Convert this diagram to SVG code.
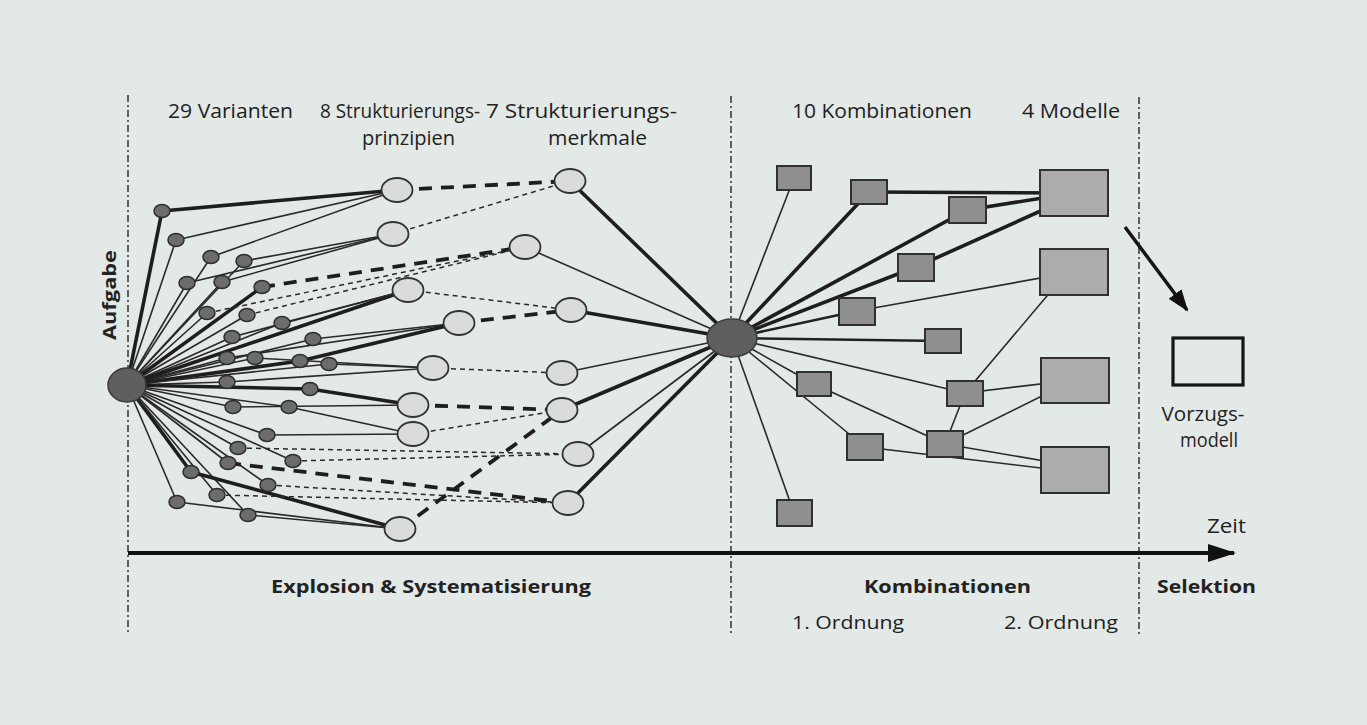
<svg xmlns="http://www.w3.org/2000/svg" width="1367" height="725" viewBox="0 0 1367 725">
<style>
.bg{fill:#e3e9e6}
.lbl{font-family:"Open Sans","DejaVu Sans",sans-serif;font-size:20px;fill:#222}
.blbl{font-family:"Open Sans","DejaVu Sans",sans-serif;font-size:18px;font-weight:bold;fill:#222}
.slbl{font-family:"Open Sans","DejaVu Sans",sans-serif;font-size:18px;fill:#222}
.sep{stroke:#333;stroke-width:1.5;stroke-dasharray:7 3 2 3;fill:none}
.l{stroke:#2a2a2a;stroke-width:1.6;fill:none}
.t{stroke:#1e1e1e;stroke-width:3.6;fill:none}
.m{stroke:#222;stroke-width:2.6;fill:none}
.d{stroke:#2a2a2a;stroke-width:1.5;stroke-dasharray:5 4;fill:none}
.D{stroke:#1e1e1e;stroke-width:3.8;stroke-dasharray:13 9;fill:none}
.dot{fill:#6c6c6c;stroke:#2e2e2e;stroke-width:1.5}
.c{fill:#d9dcda;stroke:#333;stroke-width:1.8}
.hub{fill:#5f5f5f;stroke:#3a3a3a;stroke-width:1.5}
.sq{fill:#8f8f8f;stroke:#303030;stroke-width:2}
.mod{fill:#acacac;stroke:#303030;stroke-width:2}
</style>
<defs>
<marker id="axisHead" markerUnits="userSpaceOnUse" markerWidth="30" markerHeight="20" refX="26" refY="9" orient="auto"><path d="M0,0 L28,9 L0,18 Z" fill="#111"/></marker>
<marker id="selHead" markerUnits="userSpaceOnUse" markerWidth="24" markerHeight="16" refX="20" refY="8" orient="auto"><path d="M0,0 L22,8 L0,16 Z" fill="#111"/></marker>
</defs>
<rect class="bg" x="0" y="0" width="1367" height="725"/>

<g id="separators">
<line class="sep" x1="128" y1="95" x2="128" y2="634"/>
<line class="sep" x1="731" y1="96" x2="731" y2="634"/>
<line class="sep" x1="1139" y1="97" x2="1139" y2="634"/>
</g>

<g id="connectors">
<line class="t" x1="127" y1="385" x2="162" y2="211"/>
<line class="l" x1="127" y1="385" x2="176" y2="240"/>
<line class="l" x1="127" y1="385" x2="211" y2="257"/>
<line class="l" x1="127" y1="385" x2="244" y2="261"/>
<line class="l" x1="127" y1="385" x2="187" y2="283"/>
<line class="l" x1="127" y1="385" x2="222" y2="282"/>
<line class="t" x1="127" y1="385" x2="262" y2="287"/>
<line class="l" x1="127" y1="385" x2="207" y2="313"/>
<line class="l" x1="127" y1="385" x2="247" y2="315"/>
<line class="l" x1="127" y1="385" x2="282" y2="323"/>
<line class="l" x1="127" y1="385" x2="232" y2="337"/>
<line class="l" x1="127" y1="385" x2="313" y2="339"/>
<line class="l" x1="127" y1="385" x2="227" y2="358"/>
<line class="l" x1="127" y1="385" x2="255" y2="358"/>
<line class="t" x1="127" y1="385" x2="300" y2="361"/>
<line class="l" x1="127" y1="385" x2="329" y2="364"/>
<line class="l" x1="127" y1="385" x2="227" y2="382"/>
<line class="t" x1="127" y1="385" x2="310" y2="389"/>
<line class="l" x1="127" y1="385" x2="233" y2="407"/>
<line class="l" x1="127" y1="385" x2="289" y2="407"/>
<line class="l" x1="127" y1="385" x2="267" y2="435"/>
<line class="l" x1="127" y1="385" x2="238" y2="448"/>
<line class="l" x1="127" y1="385" x2="293" y2="461"/>
<line class="l" x1="127" y1="385" x2="228" y2="463"/>
<line class="t" x1="127" y1="385" x2="191" y2="472"/>
<line class="l" x1="127" y1="385" x2="268" y2="485"/>
<line class="l" x1="127" y1="385" x2="217" y2="495"/>
<line class="l" x1="127" y1="385" x2="177" y2="502"/>
<line class="l" x1="127" y1="385" x2="248" y2="515"/>
<line class="t" x1="127" y1="385" x2="408" y2="290"/>

<line class="t" x1="162" y1="211" x2="397" y2="190"/>
<line class="l" x1="176" y1="240" x2="397" y2="190"/>
<line class="l" x1="211" y1="257" x2="397" y2="190"/>
<line class="l" x1="244" y1="261" x2="393" y2="234"/>
<line class="l" x1="187" y1="283" x2="393" y2="234"/>
<line class="l" x1="222" y1="282" x2="393" y2="234"/>
<line class="l" x1="282" y1="323" x2="408" y2="290"/>
<line class="l" x1="232" y1="337" x2="408" y2="290"/>
<line class="l" x1="313" y1="339" x2="459" y2="323"/>
<line class="l" x1="227" y1="358" x2="459" y2="323"/>
<line class="t" x1="300" y1="361" x2="459" y2="323"/>
<line class="l" x1="255" y1="358" x2="433" y2="368"/>
<line class="l" x1="329" y1="364" x2="433" y2="368"/>
<line class="l" x1="227" y1="382" x2="433" y2="368"/>
<line class="t" x1="310" y1="389" x2="413" y2="405"/>
<line class="l" x1="233" y1="407" x2="413" y2="405"/>
<line class="l" x1="289" y1="407" x2="413" y2="434"/>
<line class="l" x1="267" y1="435" x2="413" y2="434"/>
<line class="t" x1="191" y1="472" x2="400" y2="529"/>
<line class="l" x1="177" y1="502" x2="400" y2="529"/>
<line class="l" x1="248" y1="515" x2="400" y2="529"/>

<line class="D" x1="262" y1="287" x2="525" y2="247"/>
<line class="d" x1="207" y1="313" x2="525" y2="247"/>
<line class="d" x1="247" y1="315" x2="525" y2="247"/>
<line class="d" x1="238" y1="448" x2="578" y2="454"/>
<line class="d" x1="293" y1="461" x2="578" y2="454"/>
<line class="D" x1="228" y1="463" x2="568" y2="503"/>
<line class="d" x1="268" y1="485" x2="568" y2="503"/>
<line class="d" x1="217" y1="495" x2="568" y2="503"/>
<line class="D" x1="397" y1="190" x2="570" y2="181"/>
<line class="d" x1="393" y1="234" x2="570" y2="181"/>
<line class="d" x1="408" y1="290" x2="571" y2="310"/>
<line class="D" x1="459" y1="323" x2="571" y2="310"/>
<line class="d" x1="433" y1="368" x2="562" y2="373"/>
<line class="D" x1="413" y1="405" x2="562" y2="410"/>
<line class="d" x1="413" y1="434" x2="562" y2="410"/>
<line class="D" x1="400" y1="529" x2="562" y2="410"/>

<line class="t" x1="570" y1="181" x2="732" y2="338"/>
<line class="l" x1="525" y1="247" x2="732" y2="338"/>
<line class="t" x1="571" y1="310" x2="732" y2="338"/>
<line class="l" x1="562" y1="373" x2="732" y2="338"/>
<line class="t" x1="562" y1="410" x2="732" y2="338"/>
<line class="l" x1="578" y1="454" x2="732" y2="338"/>
<line class="t" x1="568" y1="503" x2="732" y2="338"/>

<line class="l" x1="732" y1="338" x2="794" y2="178"/>
<line class="t" x1="732" y1="338" x2="869" y2="192"/>
<line class="t" x1="732" y1="338" x2="967" y2="210"/>
<line class="t" x1="732" y1="338" x2="916" y2="267"/>
<line class="m" x1="732" y1="338" x2="857" y2="311"/>
<line class="m" x1="732" y1="338" x2="943" y2="341"/>
<line class="l" x1="732" y1="338" x2="965" y2="393"/>
<line class="l" x1="732" y1="338" x2="814" y2="384"/>
<line class="l" x1="732" y1="338" x2="865" y2="447"/>
<line class="l" x1="732" y1="338" x2="794" y2="513"/>

<line class="t" x1="869" y1="192" x2="1074" y2="193"/>
<line class="t" x1="967" y1="210" x2="1074" y2="193"/>
<line class="t" x1="916" y1="267" x2="1074" y2="196"/>
<line class="l" x1="857" y1="311" x2="1074" y2="272"/>
<line class="l" x1="1052" y1="290" x2="965" y2="393"/>
<line class="l" x1="965" y1="393" x2="1074" y2="380"/>
<line class="l" x1="814" y1="384" x2="945" y2="444"/>
<line class="l" x1="945" y1="444" x2="965" y2="393"/>
<line class="l" x1="945" y1="444" x2="1074" y2="380"/>
<line class="l" x1="945" y1="444" x2="1074" y2="466"/>
<line class="l" x1="865" y1="447" x2="1074" y2="472"/>

<line x1="1125" y1="227" x2="1187" y2="310" stroke="#151515" stroke-width="3.5" marker-end="url(#selHead)"/>
<line x1="128" y1="553" x2="1234" y2="553" stroke="#111" stroke-width="4" marker-end="url(#axisHead)"/>
</g>

<g id="aufgabe"><ellipse class="hub" cx="127" cy="385" rx="19" ry="17"/></g>

<g id="varianten">
<ellipse class="dot" cx="162" cy="211" rx="8" ry="6.5"/>
<ellipse class="dot" cx="176" cy="240" rx="8" ry="6.5"/>
<ellipse class="dot" cx="211" cy="257" rx="8" ry="6.5"/>
<ellipse class="dot" cx="244" cy="261" rx="8" ry="6.5"/>
<ellipse class="dot" cx="187" cy="283" rx="8" ry="6.5"/>
<ellipse class="dot" cx="222" cy="282" rx="8" ry="6.5"/>
<ellipse class="dot" cx="262" cy="287" rx="8" ry="6.5"/>
<ellipse class="dot" cx="207" cy="313" rx="8" ry="6.5"/>
<ellipse class="dot" cx="247" cy="315" rx="8" ry="6.5"/>
<ellipse class="dot" cx="282" cy="323" rx="8" ry="6.5"/>
<ellipse class="dot" cx="232" cy="337" rx="8" ry="6.5"/>
<ellipse class="dot" cx="313" cy="339" rx="8" ry="6.5"/>
<ellipse class="dot" cx="227" cy="358" rx="8" ry="6.5"/>
<ellipse class="dot" cx="255" cy="358" rx="8" ry="6.5"/>
<ellipse class="dot" cx="300" cy="361" rx="8" ry="6.5"/>
<ellipse class="dot" cx="329" cy="364" rx="8" ry="6.5"/>
<ellipse class="dot" cx="227" cy="382" rx="8" ry="6.5"/>
<ellipse class="dot" cx="310" cy="389" rx="8" ry="6.5"/>
<ellipse class="dot" cx="233" cy="407" rx="8" ry="6.5"/>
<ellipse class="dot" cx="289" cy="407" rx="8" ry="6.5"/>
<ellipse class="dot" cx="267" cy="435" rx="8" ry="6.5"/>
<ellipse class="dot" cx="238" cy="448" rx="8" ry="6.5"/>
<ellipse class="dot" cx="293" cy="461" rx="8" ry="6.5"/>
<ellipse class="dot" cx="228" cy="463" rx="8" ry="6.5"/>
<ellipse class="dot" cx="191" cy="472" rx="8" ry="6.5"/>
<ellipse class="dot" cx="268" cy="485" rx="8" ry="6.5"/>
<ellipse class="dot" cx="217" cy="495" rx="8" ry="6.5"/>
<ellipse class="dot" cx="177" cy="502" rx="8" ry="6.5"/>
<ellipse class="dot" cx="248" cy="515" rx="8" ry="6.5"/>
</g>

<g id="prinzipien">
<ellipse class="c" cx="397" cy="190" rx="15.5" ry="12"/>
<ellipse class="c" cx="393" cy="234" rx="15.5" ry="12"/>
<ellipse class="c" cx="408" cy="290" rx="15.5" ry="12"/>
<ellipse class="c" cx="459" cy="323" rx="15.5" ry="12"/>
<ellipse class="c" cx="433" cy="368" rx="15.5" ry="12"/>
<ellipse class="c" cx="413" cy="405" rx="15.5" ry="12"/>
<ellipse class="c" cx="413" cy="434" rx="15.5" ry="12"/>
<ellipse class="c" cx="400" cy="529" rx="15.5" ry="12"/>
</g>

<g id="merkmale">
<ellipse class="c" cx="570" cy="181" rx="15.5" ry="12"/>
<ellipse class="c" cx="525" cy="247" rx="15.5" ry="12"/>
<ellipse class="c" cx="571" cy="310" rx="15.5" ry="12"/>
<ellipse class="c" cx="562" cy="373" rx="15.5" ry="12"/>
<ellipse class="c" cx="562" cy="410" rx="15.5" ry="12"/>
<ellipse class="c" cx="578" cy="454" rx="15.5" ry="12"/>
<ellipse class="c" cx="568" cy="503" rx="15.5" ry="12"/>
</g>

<g id="hub"><ellipse class="hub" cx="732" cy="338" rx="25" ry="19"/></g>

<g id="kombinationen">
<rect class="sq" x="777" y="166" width="34" height="24"/>
<rect class="sq" x="851" y="180" width="36" height="24"/>
<rect class="sq" x="949" y="197" width="37" height="26"/>
<rect class="sq" x="898" y="254" width="36" height="27"/>
<rect class="sq" x="839" y="298" width="36" height="27"/>
<rect class="sq" x="925" y="329" width="36" height="24"/>
<rect class="sq" x="797" y="372" width="34" height="24"/>
<rect class="sq" x="947" y="381" width="36" height="25"/>
<rect class="sq" x="847" y="434" width="36" height="26"/>
<rect class="sq" x="927" y="431" width="36" height="26"/>
<rect class="sq" x="777" y="500" width="35" height="26"/>
</g>

<g id="modelle">
<rect class="mod" x="1040" y="170" width="68" height="46"/>
<rect class="mod" x="1040" y="249" width="68" height="46"/>
<rect class="mod" x="1041" y="358" width="68" height="45"/>
<rect class="mod" x="1041" y="447" width="68" height="46"/>
</g>

<g id="vorzugsmodell">
<rect x="1173" y="338" width="70" height="47" fill="none" stroke="#151515" stroke-width="3.2"/>
<text class="lbl" x="1203" y="421" text-anchor="middle" font-size="19" textLength="83" lengthAdjust="spacingAndGlyphs">Vorzugs-</text>
<text class="lbl" x="1209" y="447" text-anchor="middle" font-size="19" textLength="58" lengthAdjust="spacingAndGlyphs">modell</text>
</g>

<g id="labels">
<text class="lbl" x="168" y="118" textLength="125" lengthAdjust="spacingAndGlyphs">29 Varianten</text>
<text class="lbl" x="320" y="118" textLength="160" lengthAdjust="spacingAndGlyphs">8 Strukturierungs-</text>
<text class="lbl" x="362" y="145" textLength="93" lengthAdjust="spacingAndGlyphs">prinzipien</text>
<text class="lbl" x="486" y="118" textLength="191" lengthAdjust="spacingAndGlyphs">7 Strukturierungs-</text>
<text class="lbl" x="548" y="145" textLength="99" lengthAdjust="spacingAndGlyphs">merkmale</text>
<text class="lbl" x="792" y="118" textLength="180" lengthAdjust="spacingAndGlyphs">10 Kombinationen</text>
<text class="lbl" x="1022" y="118" textLength="98" lengthAdjust="spacingAndGlyphs">4 Modelle</text>
<text class="blbl" transform="translate(116,295) rotate(-90)" text-anchor="middle" textLength="90" lengthAdjust="spacingAndGlyphs">Aufgabe</text>
<text class="lbl" x="1207" y="533" textLength="39" lengthAdjust="spacingAndGlyphs">Zeit</text>
<text class="blbl" x="271" y="593" textLength="320" lengthAdjust="spacingAndGlyphs">Explosion &amp; Systematisierung</text>
<text class="blbl" x="864" y="593" textLength="167" lengthAdjust="spacingAndGlyphs">Kombinationen</text>
<text class="blbl" x="1157" y="593" textLength="99" lengthAdjust="spacingAndGlyphs">Selektion</text>
<text class="slbl" x="792" y="629" textLength="112" lengthAdjust="spacingAndGlyphs">1. Ordnung</text>
<text class="slbl" x="1004" y="629" textLength="114" lengthAdjust="spacingAndGlyphs">2. Ordnung</text>
</g>
</svg>
